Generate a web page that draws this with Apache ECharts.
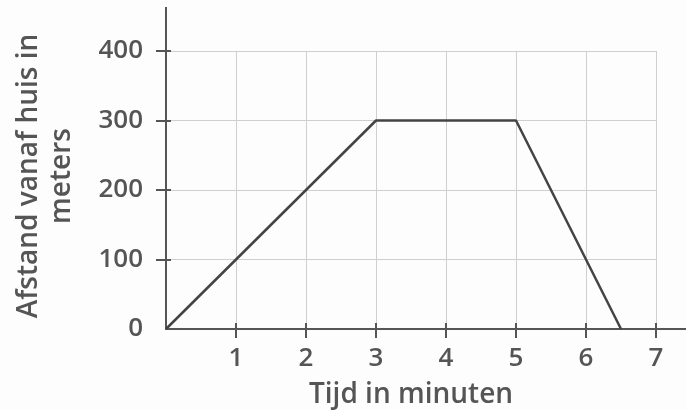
<!DOCTYPE html>
<html><head><meta charset="utf-8">
<script src="https://cdn.jsdelivr.net/npm/echarts@6/dist/echarts.min.js"></script>
<style>html,body{margin:0;padding:0;background:#fdfdfd}#c{width:686px;height:410px}</style>
</head><body><div id="c"></div>
<script>
const timeMin = [0, 3, 5, 6.5];
const distanceM = [0, 300, 300, 0];
const xTicks = [1, 2, 3, 4, 5, 6, 7];
const yTicks = [0, 100, 200, 300, 400];
const xName = 'Tijd in minuten';
const yName = 'Afstand vanaf huis in\nmeters';

const axisColor = '#555';
const textColor = '#555';
const font = 'Open Sans';
const chart = echarts.init(document.getElementById('c'));
const baseX = {type: 'value', min: 0, max: 7, interval: 1, gridIndex: 0};
const baseY = {type: 'value', min: 0, max: 400, interval: 100, gridIndex: 0};
const yTickVals = yTicks.filter(v => v > 0);
chart.setOption({
  backgroundColor: '#fdfdfd',
  animation: false,
  grid: {left: 166, right: 30, top: 51, bottom: 81, containLabel: false, outerBoundsMode: 'none'},
  xAxis: [
    Object.assign({}, baseX, {
      name: xName, nameLocation: 'middle', nameGap: 52,
      nameTextStyle: {fontFamily: font, fontSize: 28, color: textColor, fontWeight: 600},
      axisLine: {show: true, lineStyle: {color: axisColor, width: 2},
        symbol: ['none', 'rect'], symbolSize: [2, 30], symbolOffset: [0, 15]},
      axisTick: {show: true, inside: false, length: 9, lineStyle: {color: axisColor, width: 2},
        customValues: xTicks},
      axisLabel: {margin: 17, fontFamily: font, fontSize: 26, color: textColor, fontWeight: 600,
        customValues: xTicks},
      splitLine: {show: true, lineStyle: {color: '#cfcfcf', width: 1}}
    }),
    Object.assign({}, baseX, {
      position: 'bottom',
      axisLine: {show: false},
      axisTick: {show: true, inside: true, length: 6, lineStyle: {color: axisColor, width: 2},
        customValues: xTicks},
      axisLabel: {show: false}, splitLine: {show: false}
    })
  ],
  yAxis: [
    Object.assign({}, baseY, {
      name: yName, nameLocation: 'middle', nameGap: 87, nameRotate: 90,
      nameTextStyle: {fontFamily: font, fontSize: 28, color: textColor, fontWeight: 600,
        lineHeight: 33, padding: [0, 0, 0, 28]},
      axisLine: {show: true, lineStyle: {color: axisColor, width: 2},
        symbol: ['none', 'rect'], symbolSize: [2, 44], symbolOffset: [0, 22]},
      axisTick: {show: true, inside: false, length: 10, lineStyle: {color: axisColor, width: 2},
        customValues: yTickVals},
      axisLabel: {margin: 23, fontFamily: font, fontSize: 26, color: textColor, fontWeight: 600,
        customValues: yTicks},
      splitLine: {show: true, lineStyle: {color: '#cfcfcf', width: 1}}
    }),
    Object.assign({}, baseY, {
      position: 'left',
      axisLine: {show: false},
      axisTick: {show: true, inside: true, length: 5, lineStyle: {color: axisColor, width: 2},
        customValues: yTickVals},
      axisLabel: {show: false}, splitLine: {show: false}
    })
  ],
  series: [{
    type: 'line',
    data: timeMin.map((t, i) => [t, distanceM[i]]),
    symbol: 'none',
    lineStyle: {color: '#444', width: 2.5},
    z: 5
  }]
});
</script></body></html>
